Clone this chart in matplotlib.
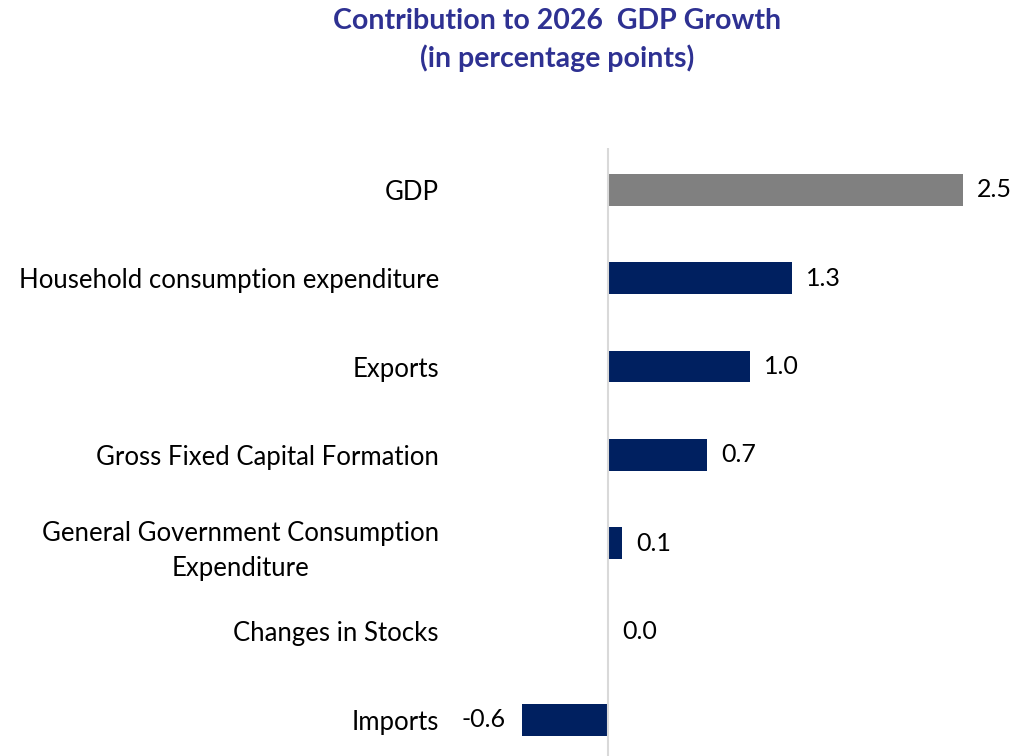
import matplotlib
matplotlib.use("Agg")
import matplotlib.pyplot as plt
import numpy as np

CATEGORIES = [
    "GDP",
    "Household consumption expenditure",
    "Exports",
    "Gross Fixed Capital Formation",
    "General Government Consumption\nExpenditure",
    "Changes in Stocks",
    "Imports",
]
VALUES = [2.5, 1.3, 1.0, 0.7, 0.1, 0.0, -0.6]
COLORS = ["#808080"] + ["#002060"] * 6
TITLE = "Contribution to 2026  GDP Growth\n(in percentage points)"

plt.rcParams["font.family"] = ["Lato", "DejaVu Sans"]

fig = plt.figure(figsize=(10.18, 7.56), dpi=100)
ax = fig.add_axes([450 / 1018, 0.0, 568 / 1018, 1 - 148 / 756])

y = np.arange(len(CATEGORIES))
ax.barh(y, VALUES, height=0.36, color=COLORS)

# value labels outside bar ends
for yi, v in zip(y, VALUES):
    if v < 0:
        ax.text(v - 0.12, yi, f"{v:.1f}", ha="right", va="center", fontsize=18, color="black")
    else:
        ax.text(v + 0.1, yi, f"{v:.1f}", ha="left", va="center", fontsize=18, color="black")

ax.set_xlim(-1.11, 2.89)
ax.set_ylim(6.41, -0.475)
ax.set_yticks(y)
ax.set_yticklabels(CATEGORIES, fontsize=18.5)
for lab in ax.get_yticklabels():
    lab.set_multialignment("center")
    lab.set_linespacing(1.5)
ax.tick_params(axis="y", length=0, pad=8)
ax.set_xticks([])
for side in ("top", "right", "bottom", "left"):
    ax.spines[side].set_visible(False)
ax.axvline(0, color="#d9d9d9", linewidth=1.5)

fig.text(557 / 1018, 1 - 40 / 756, TITLE, ha="center", va="center", fontsize=20.5,
         fontweight="bold", color="#2E3192", linespacing=1.5)

fig.savefig("out.png", dpi=100)
